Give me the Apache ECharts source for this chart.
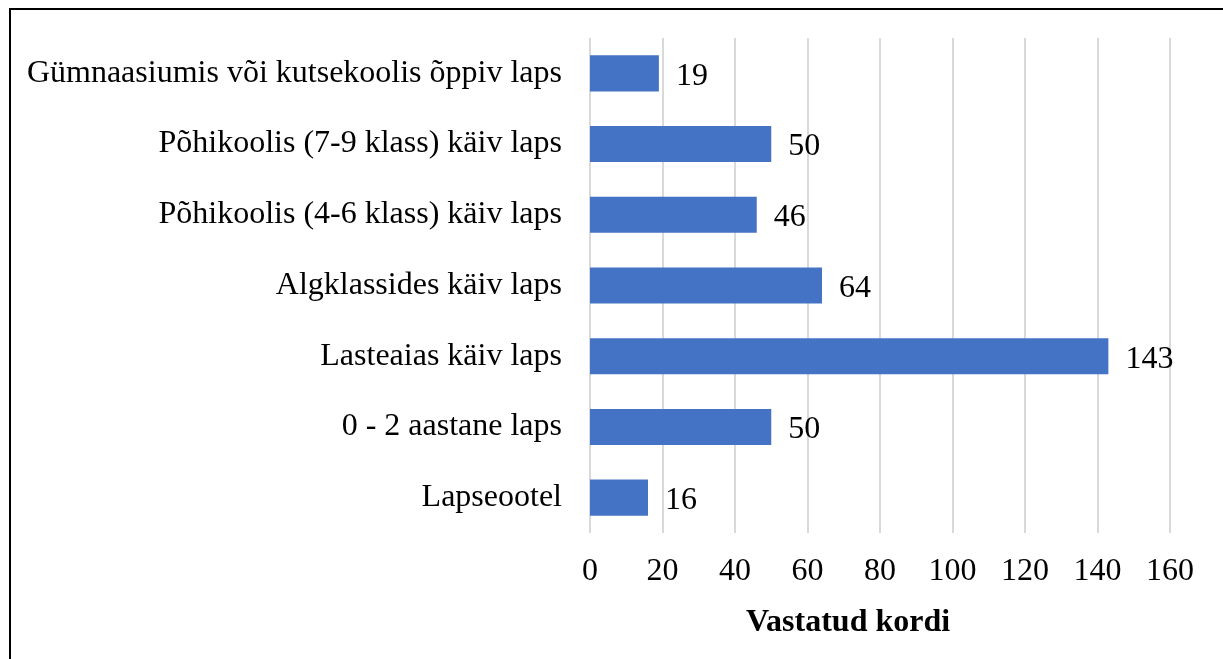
<!DOCTYPE html>
<html>
<head>
<meta charset="utf-8">
<script src="https://cdn.jsdelivr.net/npm/echarts@6/dist/echarts.min.js"></script>
<style>
  html, body { margin: 0; padding: 0; background: #fff; }
  #frame { position: absolute; left: 9px; top: 8px; width: 1230px; height: 670px;
           border-left: 2px solid #000; border-top: 2px solid #000; }
  #chart { width: 1223px; height: 659px; position: absolute; left: 0; top: 0; }
</style>
</head>
<body>
<div id="frame"></div>
<div id="chart"></div>
<script>
const categories = [
  'Gümnaasiumis või kutsekoolis õppiv laps',
  'Põhikoolis (7-9 klass) käiv laps',
  'Põhikoolis (4-6 klass) käiv laps',
  'Algklassides käiv laps',
  'Lasteaias käiv laps',
  '0 - 2 aastane laps',
  'Lapseootel'
]
const values = [19, 50, 46, 64, 143, 50, 16]
const axisTitle = 'Vastatud kordi'

const font = 'Liberation Serif'
const chart = echarts.init(document.getElementById('chart'))
chart.setOption({
  animation: false,
  textStyle: { fontFamily: font },
  grid: { left: 590, right: 53, top: 38, bottom: 126 },
  xAxis: {
    type: 'value', min: 0, max: 160, interval: 20,
    name: axisTitle, nameLocation: 'middle', nameGap: 74,
    nameTextStyle: { fontFamily: font, fontSize: 32, fontWeight: 'bold', color: '#000', padding: [0, 64, 0, 0] },
    axisLine: { show: false }, axisTick: { show: false },
    axisLabel: { fontFamily: font, fontSize: 32, color: '#000', margin: 23 },
    splitLine: { lineStyle: { color: '#d9d9d9', width: 2 } }
  },
  yAxis: {
    type: 'category', data: categories, inverse: true,
    axisLine: { show: false }, axisTick: { show: false },
    axisLabel: { fontFamily: font, fontSize: 32, color: '#000', margin: 28 }
  },
  series: [{
    type: 'bar', data: values, barWidth: '51%',
    itemStyle: { color: '#4472c4' },
    label: { show: true, position: 'right', distance: 17, offset: [0, 3], fontFamily: font, fontSize: 32, color: '#000' }
  }]
})
</script>
</body>
</html>
